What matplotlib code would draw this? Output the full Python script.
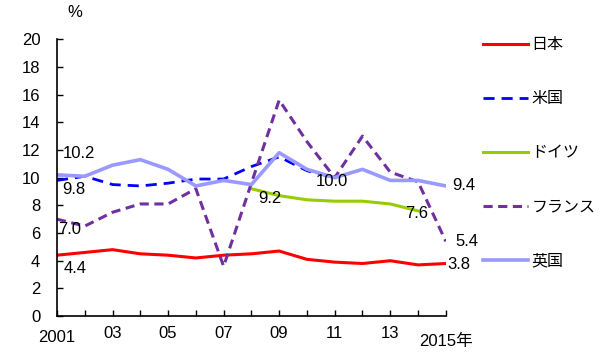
import numpy as np
import matplotlib.pyplot as plt

plt.rcParams['font.family'] = ['Liberation Sans', 'Noto Sans CJK JP']

years = np.arange(2001, 2016)
japan = [4.4, 4.6, 4.8, 4.5, 4.4, 4.2, 4.4, 4.5, 4.7, 4.1, 3.9, 3.8, 4.0, 3.7, 3.8]
usa_years = np.arange(2001, 2012)
usa = [9.8, 10.1, 9.5, 9.4, 9.6, 9.9, 9.9, 10.8, 11.5, 10.5, 10.0]
ger_years = np.arange(2008, 2015)
germany = [9.2, 8.7, 8.4, 8.3, 8.3, 8.1, 7.6]
france = [7.0, 6.5, 7.5, 8.1, 8.1, 9.2, 3.6, 9.6, 15.6, 12.6, 10.0, 13.0, 10.4, 9.7, 5.4]
uk = [10.2, 10.1, 10.9, 11.3, 10.6, 9.4, 9.8, 9.5, 11.8, 10.6, 10.0, 10.6, 9.8, 9.8, 9.4]

fig = plt.figure(figsize=(6, 3.56), dpi=100)
ax = fig.add_axes([0.095, 0.112, 0.648, 0.778])

c_jp = '#FF0000'
c_us = '#0000FF'
c_de = '#99CC00'
c_fr = '#7030A0'
c_uk = '#9999FF'

ax.plot(years, japan, color=c_jp, lw=2.2, label='日本')
ax.plot(usa_years, usa, color=c_us, lw=2.0, ls=(0, (4, 2.5)), label='米国')
ax.plot(ger_years, germany, color=c_de, lw=2.2, label='ドイツ')
ax.plot(years, france, color=c_fr, lw=2.2, ls=(0, (3, 1.8)), label='フランス')
ax.plot(years, uk, color=c_uk, lw=2.6, label='英国')

ax.set_xlim(2001, 2015)
ax.set_ylim(0, 20)
ax.set_yticks(np.arange(0, 21, 2))
ax.set_xticks(years)
ax.set_xticklabels([str(y)[2:] if (y - 2001) % 2 == 0 and y not in (2001, 2015) else '' for y in years])
ax.text(2001, -1.0, '2001', ha='center', va='top', fontsize=12)
ax.text(2015.0, -1.3, '2015年', ha='center', va='top', fontsize=12)
ax.tick_params(direction='in', labelsize=12, length=4, width=1)
ax.tick_params(axis='x', pad=7)
ax.tick_params(axis='y', pad=12)
for s in ['top', 'right']:
    ax.spines[s].set_visible(False)
ax.spines['left'].set_linewidth(1.2)
ax.spines['bottom'].set_linewidth(1.2)

ax.text(2001.65, 21.95, '%', fontsize=12, ha='center', va='center')

# data labels
fs = 12
ax.text(2001.2, 11.4, '10.2', fontsize=fs)
ax.text(2001.2, 8.8, '9.8', fontsize=fs)
ax.text(2001.05, 5.9, '7.0', fontsize=fs)
ax.text(2001.25, 3.1, '4.4', fontsize=fs)
ax.text(2008.25, 8.2, '9.2', fontsize=fs)
ax.text(2010.3, 9.4, '10.0', fontsize=fs)
ax.text(2013.55, 7.1, '7.6', fontsize=fs)
ax.text(2015.25, 9.1, '9.4', fontsize=fs)
ax.text(2015.35, 5.1, '5.4', fontsize=fs)
ax.text(2015.05, 3.4, '3.8', fontsize=fs)

ax.legend(loc='upper left', bbox_to_anchor=(1.08, 1.03), frameon=False, fontsize=11.5,
          handlelength=2.8, handletextpad=0.2, labelspacing=2.45, borderaxespad=0)

fig.savefig('out.png', dpi=100)
